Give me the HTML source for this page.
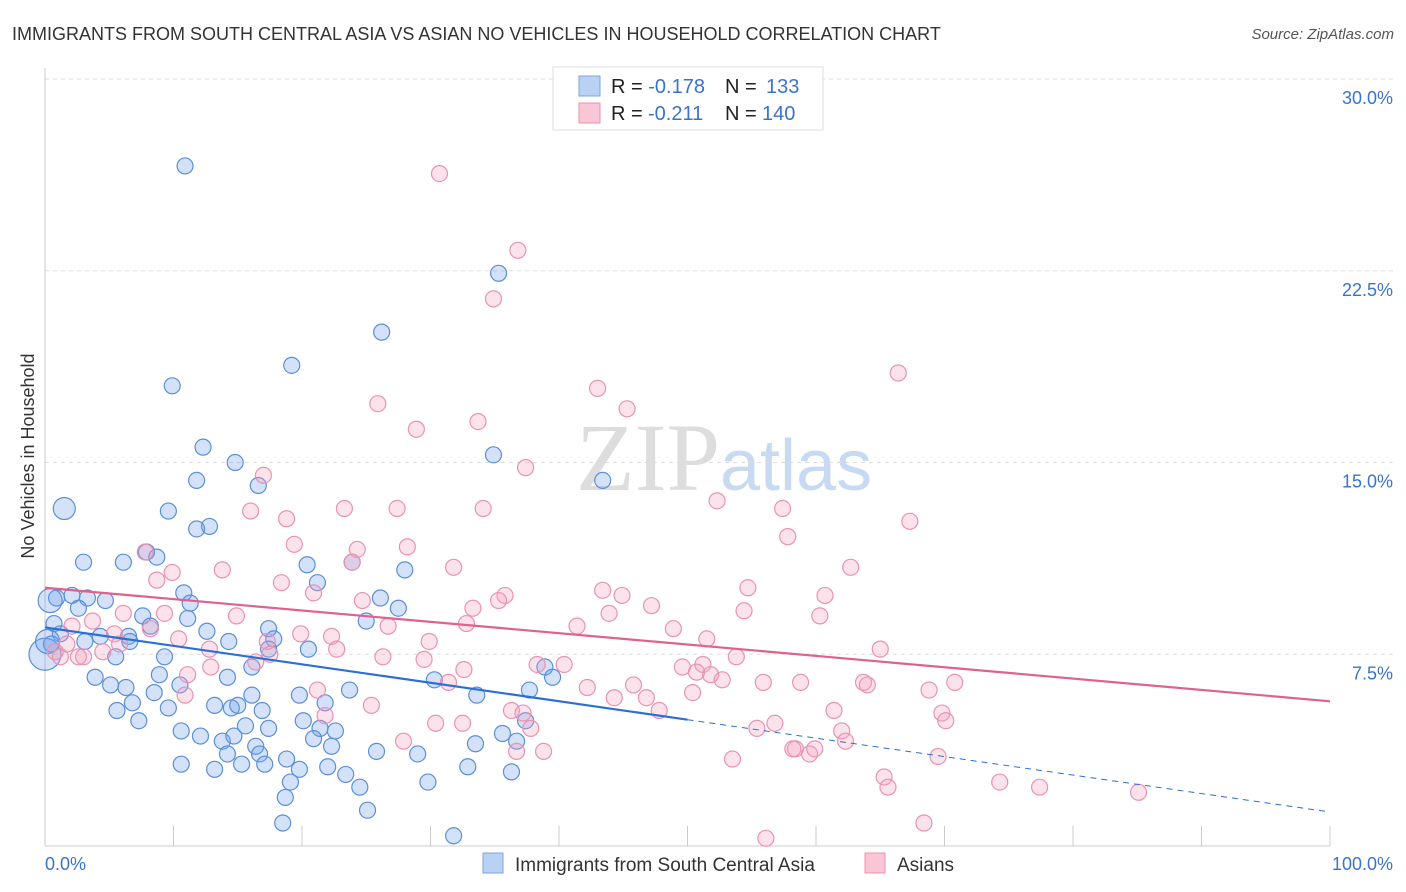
<!DOCTYPE html>
<html><head><meta charset="utf-8"><style>
body{margin:0;background:#fff;font-family:"Liberation Sans",sans-serif;}
#wrap{position:relative;width:1406px;height:892px;overflow:hidden;}
</style></head><body>
<div id="wrap">
<svg id="svg" width="1406" height="892" xmlns="http://www.w3.org/2000/svg">
<text x="12" y="40" font-size="18" fill="#333">IMMIGRANTS FROM SOUTH CENTRAL ASIA VS ASIAN NO VEHICLES IN HOUSEHOLD CORRELATION CHART</text>
<text x="1394" y="39" font-size="15" fill="#555" text-anchor="end" font-style="italic">Source: ZipAtlas.com</text>
<text x="720" y="490" font-size="96" fill="#ddd" text-anchor="end" font-family="Liberation Serif, serif">ZIP</text>
<text x="720" y="490" font-size="72" fill="#c8daf2">atlas</text>
<text x="34" y="456" font-size="18" fill="#333" text-anchor="middle" transform="rotate(-90 34 456)">No Vehicles in Household</text>
<g id="grid"></g><g id="pts"></g><g id="lines"></g>
<g>
<rect x="553" y="67" width="270" height="63" fill="#fff" stroke="#ddd"/>
<rect x="579" y="76" width="21" height="20" fill="#b9d2f4" stroke="#7aa6e0"/>
<rect x="579" y="103" width="21" height="20" fill="#f9c6d5" stroke="#eb93b0"/>
<text x="611" y="93" font-size="20" fill="#222">R = <tspan fill="#3b73cc">-0.178</tspan><tspan x="725">N = </tspan><tspan x="766" fill="#3b73cc">133</tspan></text>
<text x="611" y="120" font-size="20" fill="#222">R = <tspan x="648" fill="#3b73cc">-0.211</tspan><tspan x="725">N = </tspan><tspan x="762" fill="#3b73cc">140</tspan></text>
</g>
<g>
<rect x="483" y="853" width="20" height="20" fill="#b9d2f4" stroke="#7aa6e0"/>
<text x="515" y="871" font-size="19" fill="#333">Immigrants from South Central Asia</text>
<rect x="865" y="853" width="20" height="20" fill="#f9c6d5" stroke="#eb93b0"/>
<text x="897" y="871" font-size="19" fill="#333">Asians</text>
</g>
<text x="45" y="870" font-size="18" fill="#3b73cc">0.0%</text>
<text x="1393" y="870" font-size="18" fill="#3b73cc" text-anchor="end">100.0%</text>
</svg></div>
<script>
const yTicks=[7.5,15,22.5,30];
const yTickLabels=["7.5%","15.0%","22.5%","30.0%"];
const xTicks=[0,10,20,30,40,50,60,70,80,90,100];
const blueX=[10.9,9.9,19.2,26.2,35.3,34.9,43.4,1.5,12.3,14.8,11.8,16.6,9.6,12.8,11.8,3.0,6.1,7.9,8.7,20.4,23.9,21.2,28.0,10.8,11.3,11.1,4.7,2.1,3.3,2.6,0.9,7.6,8.2,6.5,12.6,14.3,17.4,17.8,17.4,20.5,25.0,26.1,27.5,0.7,1.2,3.1,4.3,5.5,9.3,6.6,0.5,3.9,5.1,8.9,6.3,8.5,10.5,6.8,5.6,7.3,9.6,13.2,14.5,16.1,15.0,15.6,17.4,16.9,14.2,16.1,19.8,21.8,23.7,20.1,21.4,22.6,22.3,20.9,10.6,12.1,13.8,14.7,16.4,14.2,16.7,18.8,19.8,19.1,18.7,18.5,10.6,13.2,15.3,17.1,22.0,23.4,24.5,25.8,29.0,29.8,25.1,32.9,31.8,33.5,35.6,36.7,36.3,37.4,37.7,38.9,39.5,30.3,33.6,0,0.4,0.2];
const blueY=[26.6,18.0,18.8,20.1,22.4,15.3,14.3,13.2,15.6,15.0,14.3,14.1,13.1,12.5,12.4,11.1,11.1,11.5,11.3,11.0,11.1,10.3,10.8,9.9,9.5,8.9,9.6,9.8,9.7,9.3,9.7,9.0,8.6,8.2,8.4,8.0,8.5,8.1,7.7,7.7,8.8,9.7,9.3,8.7,8.3,8.0,8.2,7.4,7.4,8.0,7.9,6.6,6.3,6.7,6.2,6.0,6.3,5.6,5.3,4.9,5.4,5.5,5.4,5.9,5.5,4.7,4.6,5.3,6.6,7.0,5.9,5.6,6.1,4.9,4.6,4.5,3.9,4.2,4.5,4.3,4.1,4.3,3.9,3.6,3.6,3.4,3.0,2.5,1.9,0.9,3.2,3.0,3.2,3.2,3.1,2.8,2.3,3.7,3.6,2.5,1.4,3.1,0.4,4.0,4.4,4.1,2.9,4.9,6.1,7.0,6.6,6.5,5.9,7.5,9.6,8.0];
const blueR=[8,8,8,8,8,8,8,11,8,8,8,8,8,8,8,8,8,8,8,8,8,8,8,8,8,8,8,8,8,8,8,8,8,8,8,8,8,8,8,8,8,8,8,8,8,8,8,8,8,8,8,8,8,8,8,8,8,8,8,8,8,8,8,8,8,8,8,8,8,8,8,8,8,8,8,8,8,8,8,8,8,8,8,8,8,8,8,8,8,8,8,8,8,8,8,8,8,8,8,8,8,8,8,8,8,8,8,8,8,8,8,8,8,16,12,12];
const pinkX=[30.7,36.8,34.9,43.0,66.4,45.3,25.9,28.9,33.7,37.4,17.0,52.3,57.4,67.3,57.8,16.0,18.8,23.3,27.4,34.1,19.4,24.3,28.2,23.9,7.8,9.9,13.8,31.8,62.7,18.4,20.9,8.7,35.8,35.3,43.4,44.9,54.7,60.7,24.7,14.9,33.3,43.9,47.2,54.4,60.3,6.1,9.3,8.2,3.7,5.4,2.1,1.7,0.8,1.2,3.0,4.5,5.8,2.6,10.4,12.8,19.9,22.3,26.7,29.9,32.8,41.4,48.9,51.5,17.3,12.9,16.4,17.5,22.7,26.3,29.5,32.6,38.3,40.4,49.6,51.2,51.8,50.7,53.8,52.7,58.8,55.9,63.7,64.0,65.0,70.8,11.1,10.9,21.2,25.4,31.4,36.3,37.2,42.2,44.3,45.8,46.8,47.8,50.4,68.8,61.4,69.8,70.1,21.8,30.4,32.5,37.8,38.8,27.9,36.7,53.5,55.4,56.8,58.4,59.5,59.9,62.0,62.3,69.5,65.3,65.6,74.3,77.4,85.1,68.4,56.1,58.2];
const pinkY=[26.3,23.3,21.4,17.9,18.5,17.1,17.3,16.3,16.6,14.8,14.5,13.5,13.2,12.7,12.1,13.1,12.8,13.2,13.2,13.2,11.8,11.6,11.7,11.1,11.5,10.7,10.8,10.9,10.9,10.3,9.9,10.4,9.8,9.6,10.0,9.8,10.1,9.8,9.6,9.0,9.3,9.1,9.4,9.2,9.0,9.1,9.1,8.5,8.8,8.3,8.6,7.9,7.6,7.4,7.4,7.6,7.9,7.4,8.1,7.7,8.3,8.2,8.6,8.0,8.7,8.6,8.5,8.1,8.0,7.0,7.2,7.5,7.7,7.4,7.3,6.9,7.1,7.1,7.0,7.1,6.7,6.8,7.4,6.5,6.4,6.4,6.4,6.3,7.7,6.4,6.7,5.9,6.1,5.5,6.4,5.3,5.2,6.2,5.8,6.3,5.8,5.3,6.0,6.1,5.3,5.2,4.9,5.1,4.8,4.8,4.6,3.7,4.1,3.7,3.4,4.6,4.8,3.8,3.6,3.8,4.5,4.1,3.5,2.7,2.3,2.5,2.3,2.1,0.9,0.3,3.8];
const blueTrend=[8.55,1.33], blueSolidEnd=50;
const pinkTrend=[10.1,5.66];
const X0=45,X1=1330,Y0=846,Y1=79;
const sx=v=>X0+(X1-X0)*v/100;
const sy=v=>Y0-(Y0-Y1)*v/30;
const NS="http://www.w3.org/2000/svg";
function mk(tag,attrs,parent){const e=document.createElementNS(NS,tag);for(const k in attrs)e.setAttribute(k,attrs[k]);parent.appendChild(e);return e;}
const grid=document.getElementById('grid'),pts=document.getElementById('pts'),lines=document.getElementById('lines');
yTicks.forEach((t,i)=>{
 const l=mk('line',{x1:X0,x2:1393,y1:sy(t),y2:sy(t),stroke:'#ddd','stroke-dasharray':'4,4'},grid);
 
 
 const tx=mk('text',{x:1393,y:sy(t)+25,'font-size':18,fill:'#3b73cc','text-anchor':'end'},grid);
 tx.textContent=yTickLabels[i];
 
 
});
const ax=mk('line',{x1:X0,x2:X0,y1:68,y2:Y0,stroke:'#ccc'},grid);


const bx=mk('line',{x1:X0,x2:X1,y1:Y0,y2:Y0,stroke:'#ccc'},grid);


xTicks.forEach(t=>{
 const l=mk('line',{x1:sx(t),x2:sx(t),y1:Y0-20,y2:Y0,stroke:'#ccc'},grid);
 
 
});
blueX.forEach((x,i)=>{
 const c=mk('circle',{cx:sx(x),cy:sy(blueY[i]),r:blueR[i]||8,fill:'rgba(110,160,235,0.3)',stroke:'#5b8fd6','stroke-width':1.2},pts);
 
 
});
pinkX.forEach((x,i)=>{
 const c=mk('circle',{cx:sx(x),cy:sy(pinkY[i]),r:8,fill:'rgba(245,160,190,0.3)',stroke:'#e893b2','stroke-width':1.2},pts);
 
 
});
const bAt=x=>blueTrend[0]+(blueTrend[1]-blueTrend[0])*x/100;
const l1=mk('line',{x1:sx(0),y1:sy(bAt(0)),x2:sx(blueSolidEnd),y2:sy(bAt(blueSolidEnd)),stroke:'#2a6fd6','stroke-width':2.2},lines);


const l2=mk('line',{x1:sx(blueSolidEnd),y1:sy(bAt(blueSolidEnd)),x2:sx(100),y2:sy(bAt(100)),stroke:'#2a6fd6','stroke-width':1,'stroke-dasharray':'6,5'},lines);


const l3=mk('line',{x1:sx(0),y1:sy(pinkTrend[0]),x2:sx(100),y2:sy(pinkTrend[1]),stroke:'#e0608e','stroke-width':2.2},lines);


</script>
</body></html>
